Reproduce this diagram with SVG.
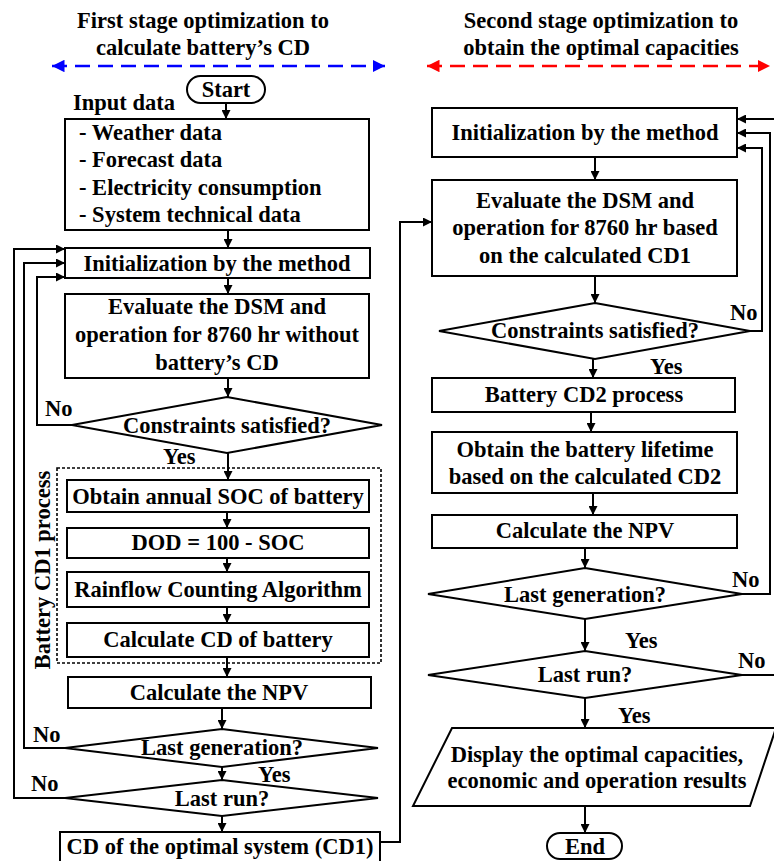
<svg xmlns="http://www.w3.org/2000/svg" width="774" height="861" viewBox="0 0 774 861">
  <defs>
    <marker id="arr" viewBox="0 0 10 10" refX="10" refY="5" markerWidth="4.5" markerHeight="4.5" orient="auto" markerUnits="strokeWidth">
      <path d="M0,0 L10,5 L0,10 z" fill="#000"/>
    </marker>
    <marker id="arrBlue" viewBox="0 0 10 10" refX="10" refY="5" markerWidth="5" markerHeight="5" orient="auto-start-reverse" markerUnits="strokeWidth">
      <path d="M0,0 L10,5 L0,10 z" fill="#0000ff"/>
    </marker>
    <marker id="arrRed" viewBox="0 0 10 10" refX="10" refY="5" markerWidth="5" markerHeight="5" orient="auto-start-reverse" markerUnits="strokeWidth">
      <path d="M0,0 L10,5 L0,10 z" fill="#ff0000"/>
    </marker>
  </defs>
  <style>
    text { font-family: "Liberation Serif", "Times New Roman", serif; font-weight: bold; font-size: 22.5px; fill: #000; }
    .c { text-anchor: middle; }
    .box { fill: #fff; stroke: #000; stroke-width: 2; }
    .edge { fill: none; stroke: #000; stroke-width: 2; }
    .arrow { fill: none; stroke: #000; stroke-width: 2; marker-end: url(#arr); }
  </style>
  <rect width="774" height="861" fill="#fff"/>

  <!-- stage headers -->
  <g id="stage1-header">
    <text class="c" x="203" y="28">First stage optimization to</text>
    <text class="c" x="203" y="55">calculate battery’s CD</text>
    <line x1="52" y1="66" x2="385" y2="66" stroke="#0000ff" stroke-width="2.5" stroke-dasharray="15 8" marker-start="url(#arrBlue)" marker-end="url(#arrBlue)"/>
  </g>
  <g id="stage2-header">
    <text class="c" x="601" y="28">Second stage optimization to</text>
    <text class="c" x="601" y="55">obtain the optimal capacities</text>
    <line x1="427" y1="66" x2="770" y2="66" stroke="#ff0000" stroke-width="2.5" stroke-dasharray="15 8" marker-start="url(#arrRed)" marker-end="url(#arrRed)"/>
  </g>

  <!-- connectors -->
  <g id="connectors">
    <line class="arrow" x1="226" y1="103" x2="226" y2="119"/>
    <line class="arrow" x1="228" y1="230" x2="228" y2="248"/>
    <line class="arrow" x1="228" y1="278" x2="228" y2="294"/>
    <line class="arrow" x1="228" y1="378" x2="228" y2="397"/>
    <line class="arrow" x1="228" y1="453" x2="228" y2="480"/>
    <line class="arrow" x1="227" y1="512" x2="227" y2="528"/>
    <line class="arrow" x1="227" y1="558" x2="227" y2="572"/>
    <line class="arrow" x1="227" y1="607" x2="227" y2="623"/>
    <line class="arrow" x1="227" y1="657" x2="227" y2="677"/>
    <line class="arrow" x1="222" y1="708" x2="222" y2="729"/>
    <line class="arrow" x1="222" y1="767" x2="222" y2="780"/>
    <line class="arrow" x1="222" y1="816" x2="222" y2="832"/>
    <!-- left feedback loops -->
    <path class="arrow" d="M72,425 H37 V277 H65"/>
    <path class="arrow" d="M65,748 H24 V263 H65"/>
    <path class="arrow" d="M65,798 H14 V249 H65"/>
    <!-- hand-over to second stage -->
    <path class="arrow" d="M380,842 H400 V222 H432"/>
    <!-- second stage -->
    <line class="arrow" x1="595" y1="157" x2="595" y2="180"/>
    <line class="arrow" x1="595" y1="276" x2="595" y2="303"/>
    <line class="arrow" x1="593" y1="359" x2="593" y2="378"/>
    <line class="arrow" x1="591" y1="412" x2="591" y2="432"/>
    <line class="arrow" x1="593" y1="493" x2="593" y2="515"/>
    <line class="arrow" x1="585" y1="548" x2="585" y2="568"/>
    <line class="arrow" x1="585" y1="619" x2="585" y2="651"/>
    <line class="arrow" x1="585" y1="698" x2="585" y2="728"/>
    <line class="arrow" x1="585" y1="806" x2="585" y2="833"/>
    <!-- right feedback loops -->
    <path class="arrow" d="M750,331 H762 V148 H737"/>
    <path class="arrow" d="M742,594 H770 V133 H737"/>
    <path class="arrow" d="M742,675 H777 V119 H737"/>
  </g>

  <!-- first stage nodes -->
  <g id="start">
    <rect class="box" x="187" y="76" width="78" height="27" rx="13.5"/>
    <text class="c" x="226" y="97">Start</text>
  </g>
  <g id="input-data">
    <text x="73" y="110">Input data</text>
    <rect class="box" x="65" y="119" width="304" height="111"/>
    <text x="79" y="140">- Weather data</text>
    <text x="79" y="167">- Forecast data</text>
    <text x="79" y="195">- Electricity consumption</text>
    <text x="79" y="222">- System technical data</text>
  </g>
  <g id="init1">
    <rect class="box" x="65" y="248" width="305" height="30"/>
    <text class="c" x="217" y="271">Initialization by the method</text>
  </g>
  <g id="evaluate1">
    <rect class="box" x="65" y="294" width="304" height="84"/>
    <text class="c" x="217" y="314">Evaluate the DSM and</text>
    <text class="c" x="217" y="342">operation for 8760 hr without</text>
    <text class="c" x="217" y="370">battery’s CD</text>
  </g>
  <g id="constraints1">
    <polygon class="box" points="227,397 382,425 227,453 72,425"/>
    <text class="c" x="227" y="433">Constraints satisfied?</text>
    <text x="45" y="416">No</text>
    <text x="163" y="464">Yes</text>
  </g>
  <g id="cd1-process">
    <rect x="57" y="468" width="324" height="195" fill="none" stroke="#000" stroke-width="1.6" stroke-dasharray="3 2"/>
    <text class="c" transform="translate(50 570) rotate(-90)">Battery CD1 process</text>
  </g>
  <g id="soc">
    <rect class="box" x="67" y="480" width="302" height="32"/>
    <text class="c" x="218" y="504">Obtain annual SOC of battery</text>
  </g>
  <g id="dod">
    <rect class="box" x="67" y="528" width="302" height="30"/>
    <text class="c" x="218" y="550">DOD = 100 - SOC</text>
  </g>
  <g id="rainflow">
    <rect class="box" x="67" y="572" width="302" height="35"/>
    <text class="c" x="218" y="597">Rainflow Counting Algorithm</text>
  </g>
  <g id="calc-cd">
    <rect class="box" x="67" y="623" width="302" height="34"/>
    <text class="c" x="218" y="647">Calculate CD of battery</text>
  </g>
  <g id="npv1">
    <rect class="box" x="68" y="677" width="303" height="31"/>
    <text class="c" x="219" y="700">Calculate the NPV</text>
  </g>
  <g id="last-gen1">
    <polygon class="box" points="222,729 378,748 222,767 65,748"/>
    <text class="c" x="222" y="755">Last generation?</text>
    <text x="33" y="742">No</text>
  </g>
  <g id="last-run1">
    <polygon class="box" points="222,780 378,798 222,816 65,798"/>
    <text class="c" x="222" y="806">Last run?</text>
    <text x="258" y="782">Yes</text>
    <text x="31" y="791">No</text>
  </g>
  <g id="cd-optimal">
    <rect class="box" x="60" y="832" width="320" height="30"/>
    <text class="c" x="220" y="854">CD of the optimal system (CD1)</text>
  </g>

  <!-- second stage nodes -->
  <g id="init2">
    <rect class="box" x="432" y="108" width="305" height="49"/>
    <text class="c" x="585" y="140">Initialization by the method</text>
  </g>
  <g id="evaluate2">
    <rect class="box" x="432" y="180" width="305" height="96"/>
    <text class="c" x="585" y="208">Evaluate the DSM and</text>
    <text class="c" x="585" y="235">operation for 8760 hr based</text>
    <text class="c" x="585" y="263">on the calculated CD1</text>
  </g>
  <g id="constraints2">
    <polygon class="box" points="595,303 750,331 595,359 439,331"/>
    <text class="c" x="595" y="338">Constraints satisfied?</text>
    <text x="730" y="320">No</text>
    <text x="650" y="374">Yes</text>
  </g>
  <g id="cd2-process">
    <rect class="box" x="432" y="378" width="303" height="34"/>
    <text class="c" x="584" y="402">Battery CD2 process</text>
  </g>
  <g id="lifetime">
    <rect class="box" x="432" y="432" width="305" height="61"/>
    <text class="c" x="585" y="457">Obtain the battery lifetime</text>
    <text class="c" x="585" y="484">based on the calculated CD2</text>
  </g>
  <g id="npv2">
    <rect class="box" x="432" y="515" width="305" height="33"/>
    <text class="c" x="585" y="538">Calculate the NPV</text>
  </g>
  <g id="last-gen2">
    <polygon class="box" points="585,568 742,594 585,619 428,594"/>
    <text class="c" x="585" y="602">Last generation?</text>
    <text x="732" y="587">No</text>
    <text x="625" y="648">Yes</text>
  </g>
  <g id="last-run2">
    <polygon class="box" points="585,651 742,675 585,698 428,675"/>
    <text class="c" x="585" y="682">Last run?</text>
    <text x="738" y="668">No</text>
    <text x="618" y="723">Yes</text>
  </g>
  <g id="display">
    <polygon class="box" points="452,728 776,728 750,806 413,806"/>
    <text class="c" x="597" y="762">Display the optimal capacities,</text>
    <text class="c" x="597" y="788">economic and operation results</text>
  </g>
  <g id="end">
    <rect class="box" x="547" y="833" width="75" height="26" rx="13"/>
    <text class="c" x="585" y="854">End</text>
  </g>
</svg>
